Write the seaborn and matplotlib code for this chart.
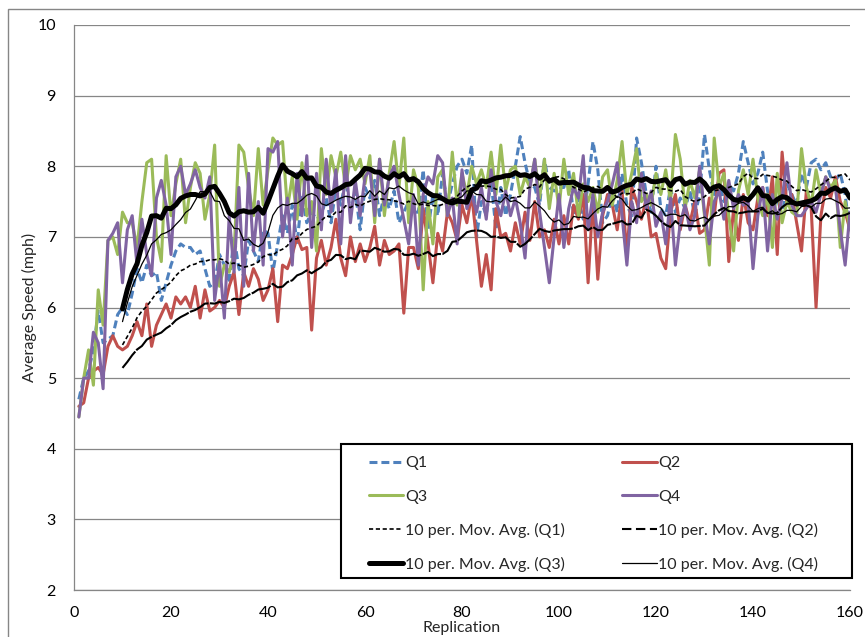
import matplotlib
matplotlib.use("Agg")
import matplotlib.pyplot as plt
import pandas as pd
import seaborn as sns
from matplotlib.lines import Line2D
from matplotlib.patches import Rectangle

# ---------------- data ----------------
replication = list(range(1, 161))

q1 = [4.7, 5.0, 5.1, 5.4, 5.95, 5.5, 5.55, 5.6, 5.9, 6.0,
      5.9, 6.2, 6.55, 6.35, 6.6, 6.45, 6.5, 6.1, 6.35, 6.6,
      6.8, 6.9, 6.85, 6.85, 6.75, 6.8, 6.55, 6.3, 6.35, 6.75,
      6.6, 6.35, 7.0, 6.55, 6.45, 6.95, 6.8, 6.65, 7.1, 7.05,
      6.5, 6.9, 7.3, 7.05, 7.45, 6.9, 7.6, 7.2, 7.35, 7.25,
      7.3, 7.55, 7.2, 7.7, 7.45, 7.8, 7.35, 7.65, 7.1, 7.7,
      7.55, 7.8, 7.3, 7.6, 7.4, 7.65, 7.2, 7.35, 7.5, 7.35,
      7.35, 7.95, 7.1, 7.6, 7.3, 7.9, 7.45, 7.75, 8.0, 8.1,
      7.9, 8.3, 7.0, 7.5, 7.3, 7.8, 7.1, 7.7, 7.3, 7.6,
      8.0, 8.42, 8.05, 7.75, 7.7, 7.45, 8.1, 7.7, 7.65, 7.7,
      7.7, 7.95, 7.3, 7.55, 7.25, 7.75, 8.35, 7.95, 7.2, 7.3,
      7.6, 7.35, 7.9, 7.45, 7.3, 8.4, 8.05, 7.6, 7.35, 8.0,
      7.4, 7.3, 7.7, 7.35, 7.55, 7.4, 7.65, 7.3, 7.6, 8.45,
      7.95, 7.6, 7.8, 7.5, 7.75, 7.65, 7.9, 8.35, 8.05, 7.75,
      7.9, 8.2, 7.65, 7.4, 7.55, 7.3, 7.75, 7.6, 7.45, 7.9,
      7.7, 8.05, 8.1, 7.95, 8.05, 7.85, 7.8, 7.9, 7.6, 7.05]

q2 = [4.6, 4.65, 5.0, 5.1, 5.15, 5.05, 5.45, 5.6, 5.45, 5.4,
      5.45, 5.6, 5.8, 5.6, 6.05, 5.45, 5.75, 5.9, 6.05, 5.85,
      6.15, 6.05, 6.15, 6.0, 6.3, 5.85, 6.25, 5.95, 6.0, 6.1,
      6.0, 6.3, 6.5, 5.9, 6.5, 6.3, 6.55, 6.4, 6.1, 6.25,
      6.55, 5.8, 6.6, 6.55, 6.75, 7.0, 6.82, 6.85, 5.68, 6.7,
      6.95, 6.6, 6.85, 7.25, 6.7, 6.45, 7.0, 6.65, 6.9, 6.65,
      6.85, 7.15, 6.6, 6.95, 6.75, 6.8, 6.9, 5.92, 6.85, 6.85,
      6.55, 7.4, 6.9, 6.35, 7.05, 6.8, 7.35, 7.2, 6.95, 7.45,
      7.2, 7.6, 6.95, 6.3, 6.75, 6.25, 7.4, 7.0, 7.05, 6.8,
      7.2, 6.9, 7.35, 6.95, 7.5, 7.0, 7.1, 6.85, 7.25, 6.9,
      7.3, 6.9, 7.45, 7.25, 7.6, 6.35, 7.55, 6.4, 7.3, 7.6,
      7.45, 7.1, 7.65, 6.75, 7.7, 7.5, 7.25, 7.55, 7.0, 7.05,
      6.7, 6.55, 7.35, 7.6, 7.1, 7.45, 7.2, 7.5, 7.05, 7.1,
      7.55, 7.3, 7.9, 7.95, 6.65, 7.4, 6.95, 7.6, 7.2, 7.1,
      7.55, 7.7, 7.3, 7.85, 6.75, 8.2, 7.45, 7.6, 7.2, 6.8,
      7.65, 7.4, 6.0, 7.3, 7.7, 7.55, 7.85, 7.5, 7.35, 7.1]

q3 = [4.45, 5.0, 5.4, 4.9, 6.25, 5.75, 6.95, 7.0, 6.75, 7.35,
      7.2, 7.2, 6.85, 7.5, 8.05, 8.1, 7.0, 6.65, 8.15, 7.3,
      7.75, 8.1, 7.2, 7.7, 8.05, 7.9, 7.25, 7.6, 8.3, 6.3,
      6.6, 6.5, 6.75, 8.3, 8.2, 7.7, 7.3, 8.25, 7.45, 7.95,
      8.4, 8.3, 8.35, 7.4, 7.85, 7.25, 8.05, 7.3, 7.5, 6.8,
      8.25, 7.6, 8.15, 7.85, 8.2, 7.7, 8.15, 7.95, 8.1, 7.75,
      8.15, 7.2, 8.1, 7.3, 7.9, 8.35, 7.7, 8.4, 7.2, 7.95,
      7.7, 6.25, 7.5, 6.9, 7.85, 7.95, 7.3, 8.2, 7.45, 7.9,
      7.6, 8.0, 7.75, 7.95, 7.7, 8.2, 7.6, 8.3, 7.65, 7.95,
      8.0, 7.6, 7.85, 7.7, 8.1, 7.55, 8.1, 7.4, 7.9, 7.4,
      8.1, 7.6, 7.9, 7.3, 7.75, 7.5, 7.7, 7.35, 7.85, 7.95,
      7.45, 7.8, 8.35, 7.6, 7.9, 8.25, 7.5, 7.6, 7.45, 7.9,
      7.6, 7.95, 7.5, 8.45, 8.1, 7.4, 7.8, 7.55, 7.95, 7.3,
      6.6, 8.4, 7.7, 7.9, 7.3, 6.8, 7.65, 7.95, 7.6, 8.1,
      7.55, 7.3, 7.6, 6.85, 7.9, 7.2, 7.5, 7.35, 7.3, 8.25,
      7.7, 7.45, 7.95, 7.6, 7.85, 7.7, 7.8, 6.85, 7.5, 7.1]

q4 = [4.45, 5.0, 5.0, 5.65, 5.5, 4.85, 6.95, 7.05, 7.2, 6.35,
      7.1, 7.3, 6.6, 7.25, 6.75, 6.45, 7.55, 7.8, 7.45, 6.75,
      7.85, 8.0, 7.6, 7.75, 7.95, 7.7, 7.55, 7.85, 6.1, 6.65,
      5.85, 7.3, 6.5, 7.7, 6.3, 7.9, 6.8, 7.5, 6.6, 8.25,
      8.2, 8.35, 7.0, 7.55, 6.6, 7.9, 7.3, 8.15, 6.85, 7.9,
      7.1, 8.1, 7.35, 7.95, 6.9, 8.15, 7.2, 7.8, 7.3, 7.85,
      7.95, 7.3, 8.1, 7.45, 7.85, 8.0, 7.6, 7.25, 6.9, 7.6,
      6.6, 7.6, 7.85, 7.75, 8.15, 8.05, 7.3, 7.55, 6.9, 7.95,
      7.4, 7.6, 7.35, 7.7, 7.25, 7.95, 7.5, 7.3, 7.65, 7.3,
      7.55, 7.2, 6.7, 7.7, 8.1, 7.35, 6.85, 6.35, 7.0, 7.6,
      6.85, 7.4, 7.7, 7.55, 8.15, 7.1, 7.6, 7.0, 7.35, 7.5,
      7.75, 8.05, 7.3, 6.6, 7.5, 7.2, 7.9, 7.4, 7.65, 7.15,
      7.35, 6.9, 7.55, 6.6, 7.2, 7.45, 7.1, 7.3, 8.0, 7.35,
      6.9, 7.5, 7.65, 7.25, 7.8, 7.4, 7.6, 7.45, 7.5, 6.55,
      7.3, 7.7, 6.8, 7.6, 7.25, 7.55, 8.05, 7.45, 7.3, 7.3,
      7.4, 7.5, 7.35, 7.6, 7.85, 7.65, 7.7, 7.1, 6.6, 7.35]

series_names = ["Q1", "Q2", "Q3", "Q4"]
ma_period = 10
x_ticks = [0, 20, 40, 60, 80, 100, 120, 140, 160]
y_ticks = [2, 3, 4, 5, 6, 7, 8, 9, 10]
x_label = "Replication"
y_label = "Average Speed (mph)"

# ---------------- styling ----------------
sns.set_style("white")
plt.rcParams["font.family"] = ["Lato", "DejaVu Sans"]
FS = 11.5

colors = {"Q1": "#4F81BD", "Q2": "#C0504D", "Q3": "#9BBB59", "Q4": "#8064A2"}
series_ls = {"Q1": (0, (2.6, 1.3)), "Q2": "-", "Q3": "-", "Q4": "-"}
ma_style = {"Q1": dict(lw=1.2, ls=(0, (2.5, 1.6)), leg=(0, (2.5, 1.6))),
            "Q2": dict(lw=1.5, ls=(0, (10, 0.7)), leg=(0, (4.5, 2.2))),
            "Q3": dict(lw=3.6, ls="-", leg="-"),
            "Q4": dict(lw=0.9, ls="-", leg="-")}
grid_c = "#868686"

df = pd.DataFrame({"Replication": replication, "Q1": q1, "Q2": q2, "Q3": q3, "Q4": q4})
for n in series_names:
    df["MA " + n] = df[n].rolling(ma_period).mean()

W, H = 865, 637
fig = plt.figure(figsize=(W / 100, H / 100), dpi=100)
x0, x1, y_top, y_bot = 74, 850, 25, 590
ax = fig.add_axes([x0 / W, (H - y_bot) / H, (x1 - x0) / W, (y_bot - y_top) / H])

for n in series_names:
    sns.lineplot(data=df, x="Replication", y=n, ax=ax, color=colors[n], lw=2.2,
                 linestyle=series_ls[n], estimator=None, legend=False, zorder=3)
for n in series_names:
    st = ma_style[n]
    sns.lineplot(data=df.dropna(subset=["MA " + n]), x="Replication", y="MA " + n, ax=ax,
                 color="black", lw=st["lw"], linestyle=st["ls"], estimator=None,
                 legend=False, zorder=4)

ax.set_xlim(0, 160)
ax.set_ylim(2, 10)
ax.set_xticks(x_ticks)
ax.set_yticks(y_ticks)
ax.yaxis.grid(True, color=grid_c, lw=0.9)
ax.xaxis.grid(False)
ax.set_axisbelow(True)
for s in ["top", "right"]:
    ax.spines[s].set_visible(False)
for s in ["left", "bottom"]:
    ax.spines[s].set_color(grid_c)
    ax.spines[s].set_linewidth(0.9)
ax.tick_params(axis="both", direction="out", length=5, width=0.9, color=grid_c,
               labelsize=FS, labelcolor="black")
ax.tick_params(axis="x", pad=6.5)
ax.tick_params(axis="y", pad=8)
ax.set_xlabel(x_label, fontsize=FS, labelpad=0.5)
ax.set_ylabel(y_label, fontsize=FS, labelpad=0)

# legend
def h(n):
    return Line2D([], [], color=colors[n], lw=2.2, ls=series_ls[n])

def hm(n):
    st = ma_style[n]
    return Line2D([], [], color="black", lw=st["lw"], ls=st["leg"])

labels_ma = {n: "10 per. Mov. Avg. (%s)" % n for n in series_names}
handles = [h("Q1"), h("Q3"), hm("Q1"), hm("Q3"), h("Q2"), h("Q4"), hm("Q2"), hm("Q4")]
labels = ["Q1", "Q3", labels_ma["Q1"], labels_ma["Q3"],
          "Q2", "Q4", labels_ma["Q2"], labels_ma["Q4"]]
leg = fig.legend(handles, labels, ncol=2, loc="upper left",
                 bbox_to_anchor=(369 / W, 1 - 456 / H), frameon=False,
                 fontsize=FS, handlelength=2.15, handletextpad=0.1,
                 labelspacing=1.2, columnspacing=3.6, borderpad=0, borderaxespad=0)
fig.patches.append(Rectangle((341 / W, 1 - 578 / H), (852 - 341) / W, (578 - 444) / H,
                             transform=fig.transFigure, fill=True, facecolor="white",
                             edgecolor="black", lw=1.5, zorder=5))
leg.set_zorder(6)
# outer chart border
fig.patches.append(Rectangle((8 / W, -0.05), 1.2, 1 - 9 / H + 0.05, transform=fig.transFigure,
                             fill=False, edgecolor=grid_c, lw=1.0, zorder=0))

fig.savefig("out.png", dpi=100)
